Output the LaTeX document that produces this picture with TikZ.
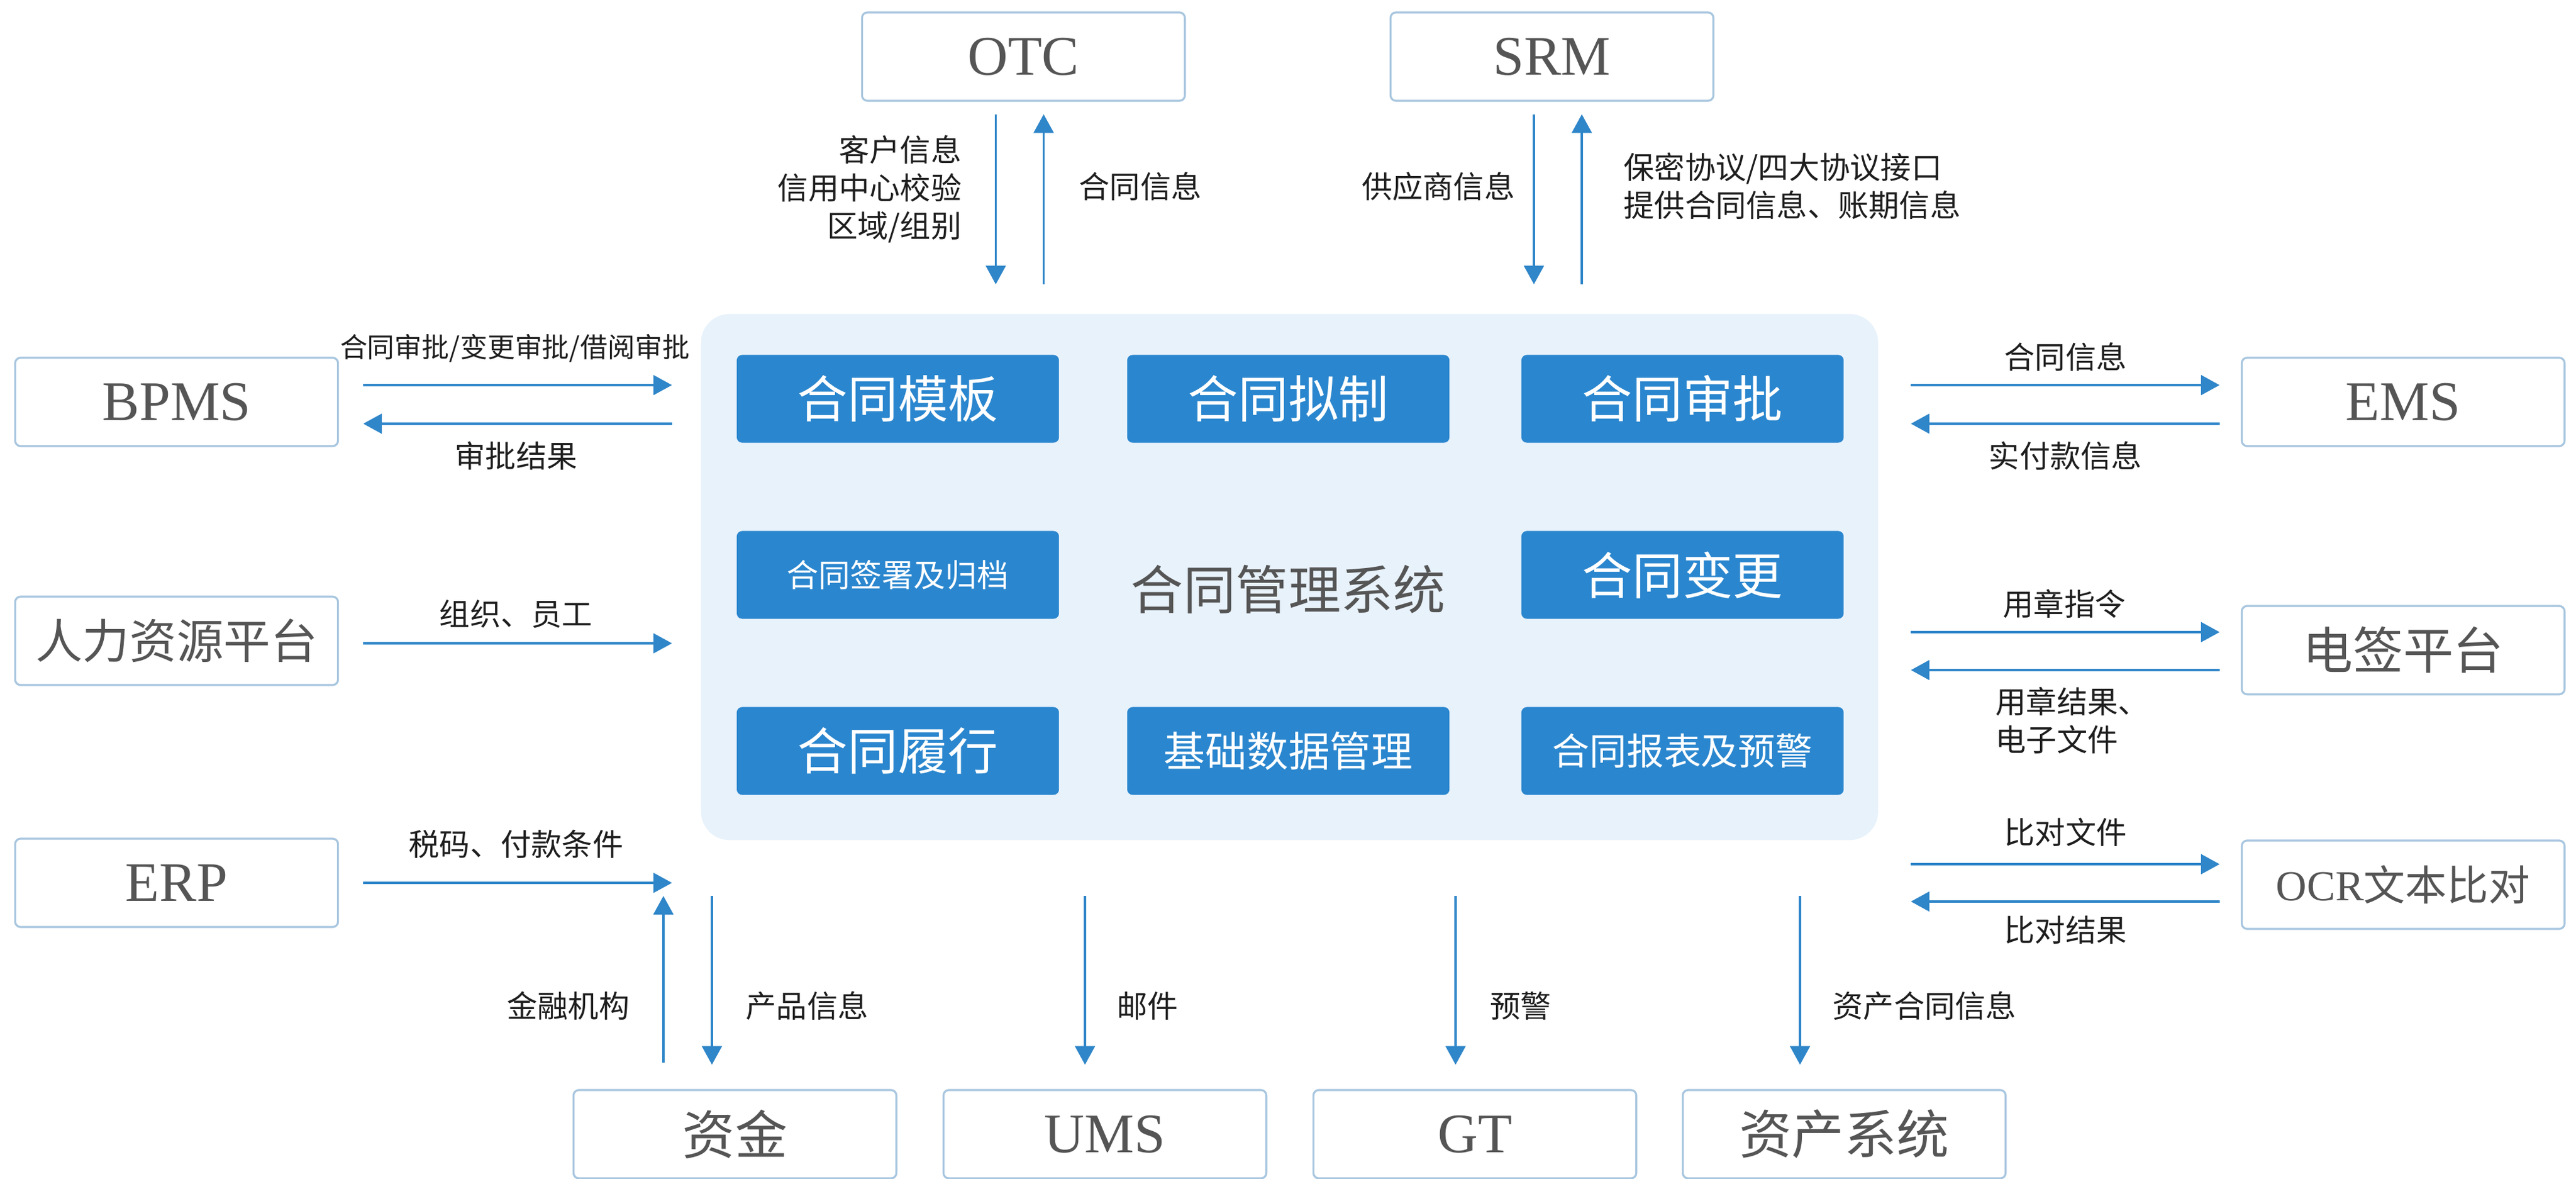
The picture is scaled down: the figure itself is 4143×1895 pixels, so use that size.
\documentclass[tikz,border=0pt]{standalone}
\usepackage{fontspec}
\setmainfont{Noto Sans CJK SC}
\newfontfamily\latserif{Liberation Serif}
\usetikzlibrary{arrows.meta,calc}
\definecolor{arrowblue}{HTML}{2F86C9}
\definecolor{modblue}{HTML}{2A86CE}
\definecolor{panelbg}{HTML}{E8F2FB}
\definecolor{boxline}{HTML}{A8C6DF}
\definecolor{boxtext}{HTML}{555555}
\definecolor{labeltext}{HTML}{1E1E1E}
\begin{document}
\begin{tikzpicture}[x=0.01cm,y=-0.01cm,
  sysbox/.style={draw=boxline,line width=0.9pt,fill=white,rounded corners=2.5pt,minimum width=5.19cm,minimum height=1.42cm,text=boxtext,inner sep=0pt},
  latname/.style={font=\latserif\fontsize{25.5pt}{29pt}\selectfont},
  cjkname/.style={font=\fontsize{23pt}{27pt}\selectfont},
  module/.style={fill=modblue,rounded corners=2.5pt,minimum width=5.18cm,minimum height=1.41cm,text=white,inner sep=0pt},
  modbig/.style={font=\fontsize{23pt}{27pt}\selectfont},
  lbl/.style={text=labeltext,font=\fontsize{14pt}{17.4pt}\selectfont,inner sep=0pt},
  arr/.style={draw=arrowblue,line width=1.1pt,-{Triangle[length=8.5pt,width=9pt]}}]

\useasboundingbox[fill=white] (0,0) rectangle (4143,1895);

% central panel
\node[fill=panelbg,rounded corners=13pt,minimum width=18.92cm,minimum height=8.45cm,inner sep=0pt] (panel) at (2074,927.5) {};

% modules
\node[module,modbig] (m1) at (1444,641) {合同模板};
\node[module,modbig] (m2) at (2072,641) {合同拟制};
\node[module,modbig] (m3) at (2706,641) {合同审批};
\node[module,font=\fontsize{14.5pt}{17pt}\selectfont] (m4) at (1444,924) {合同签署及归档};
\node[module,modbig] (m5) at (2706,924) {合同变更};
\node[module,modbig] (m6) at (1444,1207) {合同履行};
\node[module,font=\fontsize{19pt}{22pt}\selectfont] (m7) at (2072,1207) {基础数据管理};
\node[module,font=\fontsize{17pt}{20pt}\selectfont] (m8) at (2706,1207) {合同报表及预警};
\node[text=boxtext,font=\fontsize{24pt}{28pt}\selectfont,inner sep=0pt] (title) at (2072,947) {合同管理系统};

% outer systems
\node[sysbox,latname] (otc) at (1646,91) {OTC};
\node[sysbox,latname] (srm) at (2496,91) {SRM};
\node[sysbox,latname] (bpms) at (284,646) {BPMS};
\node[sysbox,latname] (ems) at (3865,646) {EMS};
\node[sysbox,font=\fontsize{21.5pt}{26pt}\selectfont] (hr) at (284,1030) {人力资源平台};
\node[sysbox,cjkname] (esign) at (3865,1045) {电签平台};
\node[sysbox,latname] (erp) at (284,1419) {ERP};
\node[sysbox] (ocr) at (3865,1422) {{\latserif\fontsize{19.5pt}{22pt}\selectfont OCR}{\fontsize{19pt}{22pt}\selectfont 文本比对}};
\node[sysbox,font=\fontsize{24pt}{28pt}\selectfont] (fund) at (1182,1823) {资金};
\node[sysbox,latname] (ums) at (1777,1823) {UMS};
\node[sysbox,latname] (gt) at (2372,1823) {GT};
\node[sysbox,font=\fontsize{24pt}{28pt}\selectfont] (asset) at (2966,1823) {资产系统};

% OTC arrows
\coordinate (otcD) at ([xshift=-0.445cm]otc.south);
\draw[arr,shorten <=0.2cm,shorten >=0.47cm] (otcD) -- (otcD |- panel.north);
\coordinate (otcU) at ([xshift=0.325cm]otc.south);
\draw[arr,shorten >=0.2cm,shorten <=0.47cm] (otcU |- panel.north) -- (otcU);
% SRM arrows
\coordinate (srmD) at ([xshift=-0.29cm]srm.south);
\draw[arr,shorten <=0.2cm,shorten >=0.47cm] (srmD) -- (srmD |- panel.north);
\coordinate (srmU) at ([xshift=0.48cm]srm.south);
\draw[arr,shorten >=0.2cm,shorten <=0.47cm] (srmU |- panel.north) -- (srmU);

% BPMS arrows
\coordinate (bpA) at ([yshift=0.27cm]bpms.east);
\draw[arr,shorten <=0.39cm,shorten >=0.46cm] (bpA) -- (bpA -| panel.west);
\coordinate (bpB) at ([yshift=-0.35cm]bpms.east);
\draw[arr,shorten >=0.39cm,shorten <=0.46cm] (bpB -| panel.west) -- (bpB);
% HR arrow
\coordinate (hrA) at ([yshift=-0.04cm]hr.east);
\draw[arr,shorten <=0.39cm,shorten >=0.46cm] (hrA) -- (hrA -| panel.west);
% ERP arrow
\coordinate (erpA) at (erp.east);
\draw[arr,shorten <=0.39cm,shorten >=0.46cm] (erpA) -- (erpA -| panel.west);

% EMS arrows
\coordinate (emA) at ([yshift=0.27cm]ems.west);
\draw[arr,shorten <=0.52cm,shorten >=0.34cm] (emA -| panel.east) -- (emA);
\coordinate (emB) at ([yshift=-0.35cm]ems.west);
\draw[arr,shorten >=0.52cm,shorten <=0.34cm] (emB) -- (emB -| panel.east);
% e-sign arrows
\coordinate (esA) at ([yshift=0.29cm]esign.west);
\draw[arr,shorten <=0.52cm,shorten >=0.34cm] (esA -| panel.east) -- (esA);
\coordinate (esB) at ([yshift=-0.32cm]esign.west);
\draw[arr,shorten >=0.52cm,shorten <=0.34cm] (esB) -- (esB -| panel.east);
% OCR arrows
\coordinate (ocA) at ([yshift=0.33cm]ocr.west);
\draw[arr,shorten <=0.52cm,shorten >=0.34cm] (ocA -| panel.east) -- (ocA);
\coordinate (ocB) at ([yshift=-0.27cm]ocr.west);
\draw[arr,shorten >=0.52cm,shorten <=0.34cm] (ocB) -- (ocB -| panel.east);

% bottom arrows
\coordinate (fuU) at ([xshift=-1.15cm]fund.north);
\draw[arr,shorten <=0.42cm,shorten >=0.89cm] (fuU) -- (fuU |- panel.south);
\coordinate (fuD) at ([xshift=-0.37cm]fund.north);
\draw[arr,shorten <=0.89cm,shorten >=0.39cm] (fuD |- panel.south) -- (fuD);
\coordinate (umD) at ([xshift=-0.32cm]ums.north);
\draw[arr,shorten <=0.89cm,shorten >=0.39cm] (umD |- panel.south) -- (umD);
\coordinate (gtD) at ([xshift=-0.31cm]gt.north);
\draw[arr,shorten <=0.89cm,shorten >=0.39cm] (gtD |- panel.south) -- (gtD);
\coordinate (asD) at ([xshift=-0.71cm]asset.north);
\draw[arr,shorten <=0.89cm,shorten >=0.39cm] (asD |- panel.south) -- (asD);

% labels
\node[lbl,anchor=east,align=right] (lotc1) at (1547,304) {客户信息\\信用中心校验\\区域/组别};
\node[lbl,anchor=west] (lotc2) at (1735,300) {合同信息};
\node[lbl,anchor=east] (lsrm1) at (2437,300) {供应商信息};
\node[lbl,anchor=west,align=left] (lsrm2) at (2611,299) {保密协议/四大协议接口\\提供合同信息、账期信息};
\node[lbl,font=\fontsize{12.5pt}{16pt}\selectfont] (lbp1) at (828,560) {合同审批/变更审批/借阅审批};
\node[lbl] (lbp2) at (830,733) {审批结果};
\node[lbl] (lhr) at (830,987) {组织、员工};
\node[lbl] (lerp) at (830,1357) {税码、付款条件};
\node[lbl] (lem1) at (3322,574) {合同信息};
\node[lbl] (lem2) at (3322,733) {实付款信息};
\node[lbl] (les1) at (3320,971) {用章指令};
\node[lbl,anchor=west,align=left] (les2) at (3209,1158) {用章结果、\\电子文件};
\node[lbl] (loc1) at (3322,1338) {比对文件};
\node[lbl] (loc2) at (3322,1495) {比对结果};
\node[lbl,anchor=east] (lfu1) at (1013,1617) {金融机构};
\node[lbl,anchor=west] (lfu2) at (1199,1617) {产品信息};
\node[lbl,anchor=west] (lums) at (1796,1617) {邮件};
\node[lbl,anchor=west] (lgt) at (2396,1617) {预警};
\node[lbl,anchor=west] (las) at (2947,1617) {资产合同信息};
\end{tikzpicture}
\end{document}
